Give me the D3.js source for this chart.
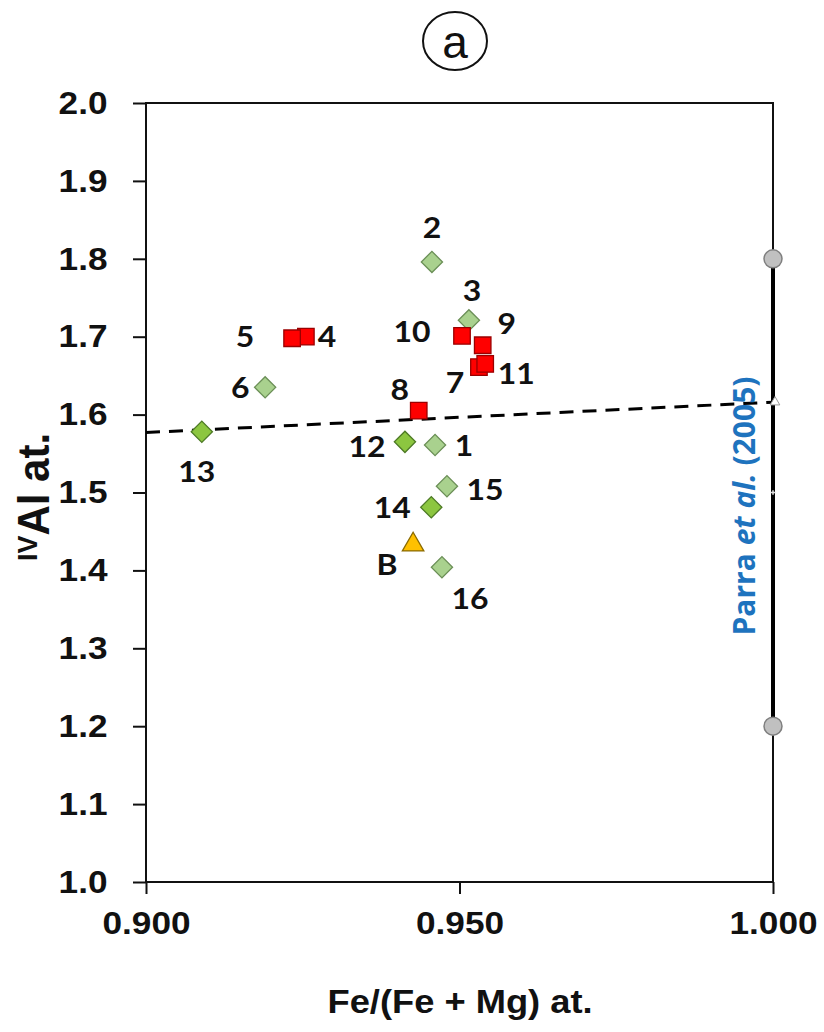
<!DOCTYPE html>
<html><head><meta charset="utf-8">
<script src="https://cdn.jsdelivr.net/npm/d3@7"></script>
<style>html,body{margin:0;padding:0;background:#fff;} svg{display:block;}</style>
</head><body>
<svg id="chart" width="824" height="1032"></svg>
<script>
// ---------- data ----------
const sampleLabels = ["1","2","3","4","5","6","7","8","9","10","11","12","13","14","15","16","B"];
const feMg  = [0.9461,0.9456,0.9515,0.9255,0.9233,0.9190,0.9531,0.9435,0.9537,0.9504,0.9541,0.9413,0.9089,0.9455,0.9480,0.9472,0.9426];
const alIV  = [1.561,1.796,1.721,1.700,1.698,1.635,1.661,1.605,1.689,1.701,1.665,1.565,1.578,1.481,1.508,1.404,1.433];
const sampleGroup = ["light","light","light","red","red","light","red","red","red","red","red","dark","dark","dark","light","light","ref"];
const xTicks = [0.900, 0.950, 1.000];
const yTicks = [1.0,1.1,1.2,1.3,1.4,1.5,1.6,1.7,1.8,1.9,2.0];
const trendFe = [0.900, 1.000];
const trendAl = [1.577, 1.616];
const parraFe = [1.000, 1.000];
const parraAl = [1.2, 1.8];
const parraMid = [1.616];
const parraSmall = [1.5];
const parraText = ["Parra ", "et al.", " (2005)"];
const xTitle = "Fe/(Fe + Mg) at.";
const panelLabel = "a";

// ---------- layout / style ----------
const labelOffsets = {
  "1":[29,1],"2":[0,-34],"3":[3,-30],"4":[21,0],"5":[-47,-2],"6":[-25,0],"7":[-24,15],
  "8":[-19,-21],"9":[24,-22],"10":[-50,-4],"11":[31,10],"12":[-38,5],"13":[-5,40],
  "14":[-39,0],"15":[38,3],"16":[28,31],"B":[-26,20]
};
const groupStyle = {
  red:   {fill:"#ff0000", stroke:"#9a0000", shape:"square"},
  light: {fill:"#a9d18e", stroke:"#6b8f57", shape:"diamond"},
  dark:  {fill:"#8cc640", stroke:"#4d7a25", shape:"diamond"},
  ref:   {fill:"#ffc000", stroke:"#8a6a00", shape:"triangle"}
};
const SX = 1.1; // horizontal glyph stretch of the original figure
const tickFont = "'Liberation Sans', Arial, sans-serif";
const labelFont = "Lato, 'Open Sans', sans-serif";

const svg = d3.select("#chart");
const x = d3.scaleLinear().domain([0.9, 1.0]).range([146, 773]);
const y = d3.scaleLinear().domain([1.0, 2.0]).range([882, 103]);

// frame
svg.append("rect").attr("x", x(0.9)).attr("y", y(2.0))
  .attr("width", x(1.0)-x(0.9)).attr("height", y(1.0)-y(2.0))
  .attr("fill","none").attr("stroke","#111").attr("stroke-width",2);

// y axis
svg.append("g").attr("transform",`translate(${x(0.9)},0)`)
  .call(d3.axisLeft(y).tickValues(yTicks).tickSize(13).tickSizeOuter(0).tickPadding(22).tickFormat(d3.format(".1f")))
  .call(s => s.select(".domain").remove())
  .call(s => s.selectAll("line").attr("stroke","#111").attr("stroke-width",2))
  .call(s => s.selectAll("text").attr("font-family",tickFont).attr("font-weight","bold")
      .attr("font-size",32).attr("fill","#111").attr("transform",`scale(${SX},1)`));

// x axis
svg.append("g").attr("transform",`translate(0,${y(1.0)})`)
  .call(d3.axisBottom(x).tickValues(xTicks).tickSize(12).tickSizeOuter(0).tickPadding(17).tickFormat(d3.format(".3f")))
  .call(s => s.select(".domain").remove())
  .call(s => s.selectAll("line").attr("stroke","#111").attr("stroke-width",2))
  .call(s => s.selectAll("text").attr("font-family",tickFont).attr("font-weight","bold")
      .attr("font-size",32).attr("fill","#111").attr("transform",`scale(${SX},1)`));

// x title
svg.append("text").attr("transform",`translate(460,1013) scale(${SX},1)`)
  .attr("text-anchor","middle").attr("font-family",tickFont).attr("font-weight","bold")
  .attr("font-size",33).attr("fill","#111").text(xTitle);

// y title
const yt = svg.append("text").attr("transform",`translate(49,497) scale(1.05,1) rotate(-90)`)
  .attr("text-anchor","middle").attr("font-family",tickFont).attr("font-weight","bold")
  .attr("font-size",42).attr("fill","#111");
yt.append("tspan").attr("font-size",27).attr("dy",-11).text("IV");
yt.append("tspan").attr("dy",11).text("Al at.");

// panel label
svg.append("ellipse").attr("cx",455).attr("cy",41).attr("rx",32).attr("ry",29)
  .attr("fill","none").attr("stroke","#111").attr("stroke-width",2);
svg.append("text").attr("x",455).attr("y",41).attr("dy","0.36em").attr("text-anchor","middle")
  .attr("font-family",tickFont).attr("font-size",46).attr("fill","#111").text(panelLabel);

// Parra range bar
svg.append("line").attr("x1",x(parraFe[0])).attr("x2",x(parraFe[1]))
  .attr("y1",y(parraAl[0])).attr("y2",y(parraAl[1]))
  .attr("stroke","#000").attr("stroke-width",4);

// trend line
svg.append("line").attr("x1",x(trendFe[0])).attr("y1",y(trendAl[0]))
  .attr("x2",x(trendFe[1])).attr("y2",y(trendAl[1]))
  .attr("stroke","#000").attr("stroke-width",3).attr("stroke-dasharray","14,9");

svg.selectAll("circle.parra").data(parraAl).join("circle").attr("class","parra")
  .attr("cx",x(1.0)).attr("cy",d=>y(d)).attr("r",9)
  .attr("fill","#c0c0c0").attr("stroke","#7f7f7f").attr("stroke-width",1.5);
svg.selectAll("path.pmid").data(parraMid).join("path").attr("class","pmid")
  .attr("d",d3.symbol(d3.symbolTriangle,40)())
  .attr("transform",d=>`translate(${x(1.0)+2},${y(d)})`)
  .attr("fill","#fff").attr("stroke","#999").attr("stroke-width",1);
svg.selectAll("path.psmall").data(parraSmall).join("path").attr("class","psmall")
  .attr("d",d3.symbol(d3.symbolCross,12)())
  .attr("transform",d=>`translate(${x(1.0)},${y(d)})`)
  .attr("fill","#ddd");

// Parra text
const pt = svg.append("text").attr("transform",`translate(755,506) rotate(-90)`)
  .attr("text-anchor","middle").attr("font-family","'Open Sans', Lato, sans-serif").attr("font-weight","bold")
  .attr("font-size",30).attr("fill","#1e73be");
pt.append("tspan").text(parraText[0]);
pt.append("tspan").attr("font-style","italic").text(parraText[1]);
pt.append("tspan").text(parraText[2]);

// points
const pts = sampleLabels.map((l,i)=>({label:l, fe:feMg[i], al:alIV[i], g:sampleGroup[i]}));
const symFor = s => s==="square" ? d3.symbol(d3.symbolSquare, 272)()
                 : s==="diamond" ? d3.symbol(d3.symbolSquare, 225)()
                 : d3.symbol(d3.symbolTriangle, 200)();
svg.selectAll("path.pt").data(pts).join("path").attr("class","pt")
  .attr("d",d=>symFor(groupStyle[d.g].shape))
  .attr("transform",d=>`translate(${x(d.fe)},${y(d.al)})` + (groupStyle[d.g].shape==="diamond"?" rotate(45)":""))
  .attr("fill",d=>groupStyle[d.g].fill).attr("stroke",d=>groupStyle[d.g].stroke).attr("stroke-width",1.3);

svg.selectAll("text.lbl").data(pts).join("text").attr("class","lbl")
  .attr("transform",d=>`translate(${x(d.fe)+labelOffsets[d.label][0]},${y(d.al)+labelOffsets[d.label][1]}) scale(${SX},1)`)
  .attr("text-anchor","middle").attr("dy","0.36em")
  .attr("font-family",labelFont).attr("font-weight","bold").attr("font-size",29).attr("fill","#111")
  .text(d=>d.label);
</script>
</body></html>
